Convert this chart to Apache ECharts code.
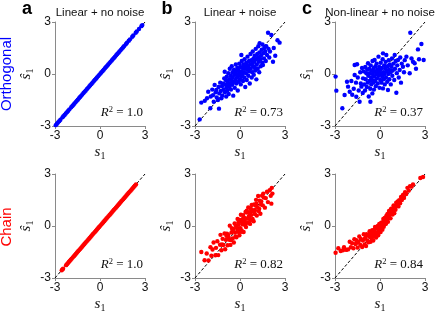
<!DOCTYPE html>
<html>
<head>
<meta charset="utf-8">
<script src="https://cdn.jsdelivr.net/npm/echarts@6/dist/echarts.min.js"></script>
<style>html,body{margin:0;padding:0;background:#fff}#c{width:439px;height:320px}</style>
</head>
<body>
<div id="c"></div>
<script>
// ---------------- DATA ----------------
const panelLetters = ['a', 'b', 'c'];
const panelTitles = ['Linear + no noise', 'Linear + noise', 'Non-linear + no noise'];
const rowLabels = ['Orthogonal', 'Chain'];
const r2Values = [['1.0', '0.73', '0.37'], ['1.0', '0.82', '0.84']];
const axisTicks = [-3, 0, 3];
const identityLine = [-3, 3];

const orthLinear = [[-2.95,-2.95],[-2.88,-2.88],[-2.8,-2.8],[-2.72,-2.72],[-2.64,-2.64],[-2.5,-2.5],[-2.44,-2.44],[-2.36,-2.36],[-2.28,-2.28],[-2.2,-2.2],[-2.12,-2.12],[-2.04,-2.04],[-1.92,-1.92],[-1.84,-1.84],[-1.77,-1.77],[-1.7,-1.7],[-1.62,-1.62],[-1.55,-1.55],[-1.48,-1.48],[-1.4,-1.4],[-1.33,-1.33],[-1.26,-1.26],[-1.18,-1.18],[-1.1,-1.1],[-1.03,-1.03],[-0.96,-0.96],[-0.88,-0.88],[-0.8,-0.8],[-0.72,-0.72],[-0.65,-0.65],[-0.57,-0.57],[-0.5,-0.5],[-0.42,-0.42],[-0.35,-0.35],[-0.27,-0.27],[-0.2,-0.2],[-0.12,-0.12],[-0.05,-0.05],[0.03,0.03],[0.1,0.1],[0.18,0.18],[0.25,0.25],[0.33,0.33],[0.4,0.4],[0.48,0.48],[0.55,0.55],[0.63,0.63],[0.7,0.7],[0.78,0.78],[0.85,0.85],[0.93,0.93],[1.0,1.0],[1.08,1.08],[1.15,1.15],[1.23,1.23],[1.3,1.3],[1.38,1.38],[1.45,1.45],[1.53,1.53],[1.6,1.6],[1.72,1.72],[1.8,1.8],[1.92,1.92],[2.0,2.0],[2.15,2.15],[2.22,2.22],[2.38,2.38],[2.45,2.45],[2.6,2.6],[2.76,2.76],[2.82,2.82]];

const orthNoise = [[-2.69,-2.62],[-2.58,-1.65],[-2.35,-1.55],[-2.2,-1.4],[-2.12,-1.02],[-1.98,-1.98],[-1.95,-1.3],[-1.85,-0.9],[-1.8,-1.22],[-1.75,-1.6],[-1.69,-0.63],[-1.62,-1.05],[-1.58,-0.92],[-1.55,-1.35],[-1.47,-1.5],[-1.43,-0.75],[-1.4,-2.0],[-1.38,-1.12],[-1.32,-0.5],[-1.28,-0.98],[-1.24,-1.4],[-1.2,-0.7],[-1.18,-1.25],[-1.13,-0.54],[-1.1,-0.9],[-1.05,-0.25],[-1.02,0.13],[-1.0,-1.05],[-0.98,-0.6],[-0.95,-0.35],[-0.92,-1.3],[-0.9,-0.78],[-0.88,-0.15],[-0.85,-0.95],[-0.82,-0.45],[-0.8,-0.6],[-0.78,0.05],[-0.75,-1.15],[-0.72,-0.3],[-0.7,-0.75],[-0.68,0.3],[-0.65,-0.55],[-0.62,-0.1],[-0.6,-0.9],[-0.58,-0.35],[-0.55,0.45],[-0.52,-0.62],[-0.5,0.1],[-0.48,-0.2],[-0.45,-1.25],[-0.42,-0.45],[-0.4,0.25],[-0.38,-0.05],[-0.35,-0.8],[-0.32,0.15],[-0.3,-0.35],[-0.28,0.55],[-0.25,-0.55],[-0.22,0.0],[-0.2,-0.2],[-0.18,0.35],[-0.15,-0.95],[-0.12,-0.1],[-0.1,0.2],[-0.08,-0.45],[-0.05,0.6],[-0.02,0.05],[0.0,-0.3],[0.02,0.4],[0.05,-0.6],[0.08,0.15],[0.1,-0.15],[0.09,1.1],[0.12,0.75],[0.15,-0.05],[0.18,0.35],[0.2,-0.4],[0.22,0.55],[0.25,0.1],[0.28,-0.2],[0.3,0.85],[0.32,0.3],[0.35,-0.75],[0.38,0.45],[0.4,0.05],[0.42,0.65],[0.45,-0.35],[0.48,0.25],[0.5,1.0],[0.52,0.5],[0.55,-0.1],[0.58,0.35],[0.6,0.75],[0.62,0.15],[0.65,-0.55],[0.68,0.55],[0.7,1.15],[0.72,0.3],[0.75,0.8],[0.78,-0.2],[0.8,0.6],[0.82,0.1],[0.85,1.3],[0.88,0.45],[0.9,0.9],[0.92,-0.05],[0.95,0.7],[0.98,1.05],[1.0,0.35],[1.02,0.2],[1.05,1.45],[1.08,0.85],[1.09,-0.31],[1.12,0.55],[1.15,1.15],[1.18,0.3],[1.2,0.95],[1.22,1.6],[1.25,0.7],[1.28,0.1],[1.3,1.25],[1.31,1.77],[1.35,0.85],[1.38,0.45],[1.4,1.05],[1.45,1.4],[1.48,0.65],[1.5,1.7],[1.53,0.52],[1.55,1.2],[1.6,0.9],[1.62,1.5],[1.68,1.3],[1.72,0.75],[1.75,1.6],[1.8,1.1],[1.87,2.38],[1.9,1.45],[1.95,0.95],[2.0,1.3],[2.09,2.25],[2.2,0.71],[2.25,1.5],[2.35,1.05],[2.5,1.95],[2.64,1.81]];

const orthNonlinear = [[-2.96,-0.15],[-2.91,-0.96],[-2.51,-1.98],[-2.36,-1.21],[-2.2,-0.45],[-2.13,-0.73],[-2.02,-1.02],[-1.91,-0.4],[-1.85,-1.2],[-1.75,-0.85],[-1.69,0.52],[-1.69,-0.06],[-1.6,-0.5],[-1.58,-1.31],[-1.53,0.56],[-1.48,-0.2],[-1.42,-0.95],[-1.36,-1.6],[-1.32,0.1],[-1.28,-0.55],[-1.24,-0.73],[-1.2,0.35],[-1.15,-1.1],[-1.13,-0.25],[-1.08,0.15],[-1.05,-0.6],[-1.0,-0.95],[-0.98,0.4],[-0.95,-0.3],[-0.91,0.04],[-0.88,-0.75],[-0.85,0.25],[-0.82,-0.5],[-0.8,0.62],[-0.78,-0.1],[-0.75,-1.3],[-0.72,0.3],[-0.7,-0.4],[-0.68,0.05],[-0.65,-0.85],[-0.64,-1.6],[-0.62,0.5],[-0.6,-0.2],[-0.58,-0.6],[-0.55,0.2],[-0.53,-0.35],[-0.51,-1.12],[-0.5,0.75],[-0.48,0.0],[-0.45,-0.5],[-0.42,0.35],[-0.4,-0.9],[-0.38,-0.15],[-0.36,0.81],[-0.35,0.15],[-0.32,-0.4],[-0.3,0.45],[-0.28,-0.7],[-0.25,0.0],[-0.22,0.6],[-0.2,-0.25],[-0.18,0.25],[-0.15,-0.55],[-0.12,0.1],[-0.1,1.0],[-0.08,-0.1],[-0.05,0.4],[-0.03,-0.8],[0.0,0.2],[0.02,-0.35],[0.05,0.65],[0.08,0.0],[0.1,-0.5],[0.12,0.35],[0.15,-0.15],[0.18,0.85],[0.2,1.19],[0.2,-0.83],[0.22,0.1],[0.25,-0.3],[0.28,0.5],[0.3,0.0],[0.32,-0.6],[0.35,0.3],[0.38,0.7],[0.4,-0.2],[0.42,1.1],[0.45,0.15],[0.48,-0.45],[0.5,0.45],[0.53,-0.92],[0.55,0.0],[0.58,0.8],[0.6,0.25],[0.62,-0.3],[0.65,0.55],[0.7,0.1],[0.72,-0.6],[0.76,0.42],[0.8,0.9],[0.82,-0.1],[0.85,0.2],[0.9,0.6],[0.95,-0.35],[0.98,1.1],[1.0,0.3],[1.05,0.75],[1.09,-1.08],[1.12,0.05],[1.15,0.5],[1.2,0.81],[1.25,-0.2],[1.31,0.23],[1.35,0.95],[1.4,-0.5],[1.45,0.6],[1.53,0.42],[1.6,0.1],[1.65,0.8],[1.76,1.0],[1.85,0.5],[1.98,0.04],[2.02,2.38],[2.1,0.9],[2.2,0.71],[2.31,0.62],[2.4,0.3],[2.53,1.42],[2.6,0.85],[2.76,1.73],[2.91,0.81]];

const chainLinear = [[-2.55,-2.55],[-2.5,-2.5],[-2.46,-2.46],[-2.26,-2.26],[-2.2,-2.2],[-2.14,-2.14],[-2.08,-2.08],[-2.02,-2.02],[-1.95,-1.95],[-1.88,-1.88],[-1.81,-1.81],[-1.74,-1.74],[-1.67,-1.67],[-1.6,-1.6],[-1.53,-1.53],[-1.46,-1.46],[-1.39,-1.39],[-1.32,-1.32],[-1.25,-1.25],[-1.18,-1.18],[-1.11,-1.11],[-1.04,-1.04],[-0.97,-0.97],[-0.9,-0.9],[-0.83,-0.83],[-0.76,-0.76],[-0.69,-0.69],[-0.62,-0.62],[-0.55,-0.55],[-0.48,-0.48],[-0.41,-0.41],[-0.34,-0.34],[-0.27,-0.27],[-0.2,-0.2],[-0.13,-0.13],[-0.06,-0.06],[0.01,0.01],[0.08,0.08],[0.15,0.15],[0.22,0.22],[0.29,0.29],[0.36,0.36],[0.43,0.43],[0.5,0.5],[0.57,0.57],[0.64,0.64],[0.71,0.71],[0.78,0.78],[0.85,0.85],[0.92,0.92],[0.99,0.99],[1.06,1.06],[1.13,1.13],[1.2,1.2],[1.27,1.27],[1.34,1.34],[1.41,1.41],[1.48,1.48],[1.55,1.55],[1.62,1.62],[1.69,1.69],[1.76,1.76],[1.83,1.83],[1.9,1.9],[1.97,1.97],[2.04,2.04],[2.11,2.11],[2.18,2.18],[2.25,2.25],[2.32,2.32],[2.4,2.4]];

const chainNoise = [[-2.58,-1.5],[-2.36,-1.98],[-2.22,-1.59],[-2.1,-1.99],[-1.97,-1.22],[-1.91,-1.72],[-1.83,-1.36],[-1.76,-0.95],[-1.64,-1.69],[-1.6,-1.26],[-1.51,-0.88],[-1.45,-1.68],[-1.33,-1.08],[-1.3,-0.51],[-1.24,-1.4],[-1.2,-1.07],[-1.16,-0.74],[-1.12,-1.1],[-1.03,-0.43],[-0.99,-1.34],[-0.94,-0.8],[-0.9,-0.57],[-0.87,-0.44],[-0.83,-1.11],[-0.79,-0.52],[-0.75,-0.69],[-0.71,-0.8],[-0.68,0.02],[-0.64,-1.09],[-0.6,-0.81],[-0.57,-0.38],[-0.55,-0.12],[-0.5,-0.28],[-0.49,-0.72],[-0.44,-0.17],[-0.41,-0.95],[-0.36,0.14],[-0.33,-0.38],[-0.3,-0.61],[-0.27,0.02],[-0.24,-0.65],[-0.2,-0.12],[-0.16,0.41],[-0.15,-0.23],[-0.11,-0.34],[-0.1,0.21],[-0.09,0.07],[-0.04,-0.53],[0.0,0.35],[0.03,-0.12],[0.06,0.65],[0.08,-0.33],[0.11,-0.26],[0.13,0.21],[0.18,0.1],[0.2,0.42],[0.21,0.63],[0.24,-0.35],[0.27,0.28],[0.3,0.46],[0.32,0.07],[0.35,0.15],[0.37,0.81],[0.4,-0.06],[0.43,0.42],[0.45,0.88],[0.49,0.77],[0.52,0.19],[0.55,1.07],[0.58,0.54],[0.61,0.42],[0.63,0.79],[0.65,0.6],[0.67,0.12],[0.7,0.35],[0.72,1.01],[0.75,0.64],[0.78,1.21],[0.8,0.88],[0.84,0.41],[0.86,0.88],[0.91,0.27],[0.94,1.25],[0.95,0.91],[0.99,0.69],[1.0,0.9],[1.03,1.18],[1.07,1.51],[1.1,1.29],[1.12,0.6],[1.16,1.09],[1.21,1.73],[1.25,0.86],[1.28,0.99],[1.31,1.46],[1.36,0.71],[1.4,1.24],[1.42,1.41],[1.47,1.75],[1.52,1.19],[1.55,1.87],[1.58,1.64],[1.66,1.06],[1.72,1.61],[1.8,1.98],[1.86,1.38],[1.98,2.06],[2.05,1.74],[2.09,1.29],[2.12,2.2],[2.16,1.87]];

const chainNonlinear = [[-2.96,-1.54],[-2.78,-1.28],[-2.62,-1.44],[-2.47,-1.4],[-2.4,-1.22],[-2.25,-1.38],[-2.13,-1.35],[-2.02,-0.91],[-1.94,-1.23],[-1.86,-0.99],[-1.77,-1.28],[-1.71,-0.76],[-1.63,-1.04],[-1.58,-0.82],[-1.5,-0.95],[-1.49,-1.25],[-1.43,-0.9],[-1.38,-0.61],[-1.31,-1.09],[-1.27,-0.75],[-1.19,-1.21],[-1.14,-0.84],[-1.08,-0.47],[-1.02,-1.06],[-1.0,-0.72],[-0.97,-0.68],[-0.93,-1.15],[-0.89,-0.48],[-0.84,-0.85],[-0.8,-0.52],[-0.76,-0.94],[-0.71,-0.61],[-0.69,-0.3],[-0.65,-0.55],[-0.63,-0.91],[-0.6,-0.47],[-0.56,-0.71],[-0.52,-0.24],[-0.5,-0.4],[-0.48,-0.56],[-0.45,-0.84],[-0.41,-0.27],[-0.37,-0.59],[-0.35,-0.2],[-0.33,-0.06],[-0.3,-0.4],[-0.26,-0.67],[-0.22,-0.12],[-0.19,-0.42],[-0.15,0.0],[-0.12,-0.53],[-0.1,-0.3],[-0.08,-0.15],[-0.05,0.12],[-0.02,-0.36],[0.0,-0.2],[0.01,0.01],[0.04,-0.35],[0.05,0.05],[0.07,0.18],[0.1,-0.13],[0.13,0.21],[0.15,0.05],[0.16,-0.21],[0.19,0.18],[0.2,-0.02],[0.22,0.41],[0.25,-0.05],[0.28,0.24],[0.3,0.3],[0.31,0.47],[0.34,0.11],[0.37,0.44],[0.4,0.13],[0.4,0.4],[0.43,0.6],[0.45,0.5],[0.46,0.35],[0.5,0.7],[0.53,0.24],[0.56,0.62],[0.6,0.87],[0.62,0.68],[0.63,0.46],[0.67,0.8],[0.7,0.44],[0.7,0.78],[0.73,0.98],[0.77,0.72],[0.8,1.01],[0.84,0.66],[0.85,0.9],[0.87,0.94],[0.91,1.19],[0.95,0.74],[0.95,1.05],[0.99,1.14],[1.03,0.94],[1.08,1.35],[1.13,1.16],[1.18,1.42],[1.2,1.3],[1.23,1.13],[1.28,1.49],[1.34,1.31],[1.4,1.68],[1.46,1.5],[1.5,1.65],[1.53,1.79],[1.6,1.62],[1.67,1.95],[1.75,1.85],[1.83,2.2],[1.92,2.05],[2.0,2.3],[2.1,2.27],[2.2,2.4],[2.69,2.77],[2.87,2.83]];

const panelData = [[orthLinear, orthNoise, orthNonlinear], [chainLinear, chainNoise, chainNonlinear]];
const rowColors = ['#0000ff', '#ff0000'];

// ---------------- LAYOUT ----------------
const gridLefts = [55, 195, 335];
const gridTops = [22, 174];
const gridW = 90, gridH = 104;

const chart = echarts.init(document.getElementById('c'), null, {renderer: 'canvas'});
const grids = [], xAxes = [], yAxes = [], series = [], graphics = [];
const axisGrey = '#8a8a8a';
const serif = '"Liberation Serif", "DejaVu Serif", serif';
const sans = '"Liberation Sans", Arial, sans-serif';
const mathRich = {
  it: {fontFamily: serif, fontStyle: 'italic', fontSize: 15, color: '#111'},
  sub: {fontFamily: serif, fontSize: 10, color: '#111', padding: [7, 0, 0, 0]}
};

let idx = 0;
for (let r = 0; r < 2; r++) {
  for (let c = 0; c < 3; c++) {
    grids.push({left: gridLefts[c], top: gridTops[r], width: gridW, height: gridH, containLabel: false});
    const common = {
      type: 'value', min: axisTicks[0], max: axisTicks[2], interval: 3, gridIndex: idx,
      axisLine: {show: true, onZero: false, lineStyle: {color: axisGrey, width: 1}},
      axisTick: {show: true, inside: false, length: 3, lineStyle: {color: axisGrey}},
      axisLabel: {fontSize: 12, color: '#111', fontFamily: sans, margin: 4},
      splitLine: {show: false},
      nameLocation: 'middle'
    };
    xAxes.push(Object.assign({}, common, {
      name: '{it|s}{sub|1}', nameGap: 18,
      nameTextStyle: {rich: mathRich}
    }));
    yAxes.push(Object.assign({}, common, {
      name: '{it|ŝ}{sub|1}', nameGap: 20, nameRotate: 90,
      nameTextStyle: {rich: mathRich}
    }));
    series.push({
      type: 'line', xAxisIndex: idx, yAxisIndex: idx, z: 1,
      data: identityLine.map(v => [v, v]), symbol: 'none', silent: true,
      lineStyle: {color: '#000', width: 1, type: [3, 2]}
    });
    series.push({
      type: 'scatter', xAxisIndex: idx, yAxisIndex: idx, z: 2,
      data: panelData[r][c], symbolSize: 4.4,
      itemStyle: {color: rowColors[r], opacity: 1}
    });
    graphics.push({
      type: 'text', x: gridLefts[c] + gridW - 2, y: gridTops[r] + gridH - 13,
      style: {
        text: '{it|R}{n|2}{eq| = ' + r2Values[r][c] + '}',
        align: 'right', verticalAlign: 'middle',
        rich: {
          it: {fontFamily: serif, fontStyle: 'italic', fontSize: 13, fill: '#111'},
          n: {fontFamily: serif, fontSize: 8.5, fill: '#111', padding: [0, 0, 7, 0]},
          eq: {fontFamily: serif, fontSize: 13, fill: '#111'}
        }
      }
    });
    idx++;
  }
}
for (let c = 0; c < 3; c++) {
  graphics.push({type: 'text', x: gridLefts[c] + gridW / 2, y: 13,
    style: {text: panelTitles[c], font: '11.5px ' + sans, fill: '#111', align: 'center', verticalAlign: 'middle'}});
  graphics.push({type: 'text', x: gridLefts[c] - 28, y: 9,
    style: {text: panelLetters[c], font: 'bold 18px ' + sans, fill: '#000', align: 'center', verticalAlign: 'middle'}});
}
const rowCenters = [74, 227];
for (let r = 0; r < 2; r++) {
  graphics.push({type: 'text', x: 7, y: rowCenters[r], rotation: Math.PI / 2,
    style: {text: rowLabels[r], font: '15px ' + sans, fill: rowColors[r], align: 'center', verticalAlign: 'middle'}});
}

chart.setOption({
  animation: false,
  backgroundColor: '#fff',
  grid: grids, xAxis: xAxes, yAxis: yAxes, series: series, graphic: graphics
});
</script>
</body>
</html>
